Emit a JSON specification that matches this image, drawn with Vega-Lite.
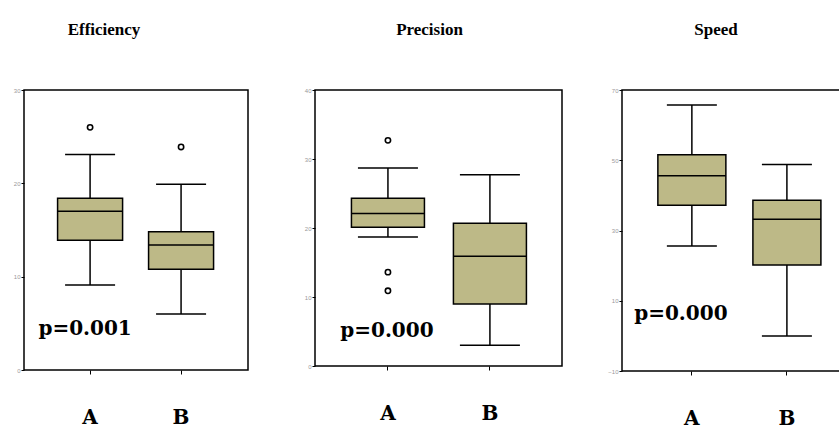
{
  "$schema": "https://vega.github.io/schema/vega-lite/v6.json",
  "padding": {"left": 9, "top": 20, "right": 0, "bottom": 0},
  "background": "white",
  "spacing": 40,
  "datasets": {
    "eff_box": [
      {"grp": "A", "lower": 9.1, "q1": 13.9, "median": 17.0, "q3": 18.4, "upper": 23.1},
      {"grp": "B", "lower": 6.0, "q1": 10.8, "median": 13.4, "q3": 14.8, "upper": 19.9}
    ],
    "eff_out": [{"grp": "A", "v": 26.0}, {"grp": "B", "v": 23.9}],
    "eff_p": [{"grp": "A", "v": 4.4, "label": "p=0.001"}],
    "pre_box": [
      {"grp": "A", "lower": 18.7, "q1": 20.1, "median": 22.1, "q3": 24.3, "upper": 28.7},
      {"grp": "B", "lower": 3.0, "q1": 9.0, "median": 15.9, "q3": 20.7, "upper": 27.7}
    ],
    "pre_out": [{"grp": "A", "v": 32.7}, {"grp": "A", "v": 13.6}, {"grp": "A", "v": 10.9}],
    "pre_p": [{"grp": "A", "v": 5.1, "label": "p=0.000"}],
    "spd_box": [
      {"grp": "A", "lower": 25.6, "q1": 37.2, "median": 45.6, "q3": 51.6, "upper": 65.7},
      {"grp": "B", "lower": 0.0, "q1": 20.2, "median": 33.2, "q3": 38.6, "upper": 48.8}
    ],
    "spd_p": [{"grp": "A", "v": 6.1, "label": "p=0.000"}]
  },
  "hconcat": [
    {
      "width": 224, "height": 280,
      "title": {"text": "Efficiency", "dx": -32, "anchor": "middle", "offset": 48},
      "encoding": {
        "x": {"field": "grp", "type": "nominal", "title": null,
              "scale": {"domain": ["A", "B"], "paddingInner": 0, "paddingOuter": 0.231, "align": 0.49}}
      },
      "layer": [
        {"data": {"name": "eff_box"}, "mark": {"type": "rule", "color": "black", "strokeWidth": 1.5},
         "encoding": {"y": {"field": "lower", "type": "quantitative", "title": null,
                            "scale": {"domain": [0, 30], "nice": false, "zero": false},
                            "axis": {"values": [0, 10, 20, 30], "minExtent": 14, "maxExtent": 14, "labelOverlap": false}},
                      "y2": {"field": "upper"}}},
        {"data": {"name": "eff_box"}, "mark": {"type": "bar", "size": 65, "fill": "#bdb987", "stroke": "black", "strokeWidth": 1.5},
         "encoding": {"y": {"field": "q1", "type": "quantitative", "title": null}, "y2": {"field": "q3"}}},
        {"data": {"name": "eff_box"}, "mark": {"type": "tick", "size": 65, "thickness": 1.5, "color": "black", "opacity": 1},
         "encoding": {"y": {"field": "median", "type": "quantitative", "title": null}}},
        {"data": {"name": "eff_box"}, "mark": {"type": "tick", "size": 50, "thickness": 1.5, "color": "black", "opacity": 1},
         "encoding": {"y": {"field": "lower", "type": "quantitative", "title": null}}},
        {"data": {"name": "eff_box"}, "mark": {"type": "tick", "size": 50, "thickness": 1.5, "color": "black", "opacity": 1},
         "encoding": {"y": {"field": "upper", "type": "quantitative", "title": null}}},
        {"data": {"name": "eff_out"}, "mark": {"type": "point", "shape": "circle", "filled": false, "size": 28, "strokeWidth": 1.6, "color": "black", "opacity": 1},
         "encoding": {"y": {"field": "v", "type": "quantitative", "title": null}}},
        {"data": {"name": "eff_p"}, "mark": {"type": "text", "font": "DejaVu Serif", "fontWeight": "bold", "fontSize": 20, "baseline": "middle", "dx": -5, "color": "black"},
         "encoding": {"y": {"field": "v", "type": "quantitative", "title": null}, "text": {"field": "label"}}}
      ]
    },
    {
      "width": 247, "height": 276,
      "title": {"text": "Precision", "dx": -9, "anchor": "middle", "offset": 48},
      "encoding": {
        "x": {"field": "grp", "type": "nominal", "title": null,
              "scale": {"domain": ["A", "B"], "paddingInner": 0, "paddingOuter": 0.211, "align": 0.51}}
      },
      "layer": [
        {"data": {"name": "pre_box"}, "mark": {"type": "rule", "color": "black", "strokeWidth": 1.5},
         "encoding": {"y": {"field": "lower", "type": "quantitative", "title": null,
                            "scale": {"domain": [0, 40], "nice": false, "zero": false},
                            "axis": {"values": [0, 10, 20, 30, 40], "minExtent": 25, "maxExtent": 25, "labelOverlap": false}},
                      "y2": {"field": "upper"}}},
        {"data": {"name": "pre_box"}, "mark": {"type": "bar", "size": 73, "fill": "#bdb987", "stroke": "black", "strokeWidth": 1.5},
         "encoding": {"y": {"field": "q1", "type": "quantitative", "title": null}, "y2": {"field": "q3"}}},
        {"data": {"name": "pre_box"}, "mark": {"type": "tick", "size": 73, "thickness": 1.5, "color": "black", "opacity": 1},
         "encoding": {"y": {"field": "median", "type": "quantitative", "title": null}}},
        {"data": {"name": "pre_box"}, "mark": {"type": "tick", "size": 60, "thickness": 1.5, "color": "black", "opacity": 1},
         "encoding": {"y": {"field": "lower", "type": "quantitative", "title": null}}},
        {"data": {"name": "pre_box"}, "mark": {"type": "tick", "size": 60, "thickness": 1.5, "color": "black", "opacity": 1},
         "encoding": {"y": {"field": "upper", "type": "quantitative", "title": null}}},
        {"data": {"name": "pre_out"}, "mark": {"type": "point", "shape": "circle", "filled": false, "size": 28, "strokeWidth": 1.6, "color": "black", "opacity": 1},
         "encoding": {"y": {"field": "v", "type": "quantitative", "title": null}}},
        {"data": {"name": "pre_p"}, "mark": {"type": "text", "font": "DejaVu Serif", "fontWeight": "bold", "fontSize": 20, "baseline": "middle", "dx": -1, "color": "black"},
         "encoding": {"y": {"field": "v", "type": "quantitative", "title": null}, "text": {"field": "label"}}}
      ]
    },
    {
      "width": 222, "height": 281,
      "title": {"text": "Speed", "dx": -17, "anchor": "middle", "offset": 48},
      "encoding": {
        "x": {"field": "grp", "type": "nominal", "title": null,
              "scale": {"domain": ["A", "B"], "paddingInner": 0, "paddingOuter": 0.168, "align": 0.7}}
      },
      "layer": [
        {"data": {"name": "spd_box"}, "mark": {"type": "rule", "color": "black", "strokeWidth": 1.5},
         "encoding": {"y": {"field": "lower", "type": "quantitative", "title": null,
                            "scale": {"domain": [-10, 70], "nice": false, "zero": false},
                            "axis": {"values": [-10, 0, 10, 20, 30, 40, 50, 60, 70], "minExtent": 18, "maxExtent": 18, "labelOverlap": false, "labelSeparation": 0, "labelBound": false}},
                      "y2": {"field": "upper"}}},
        {"data": {"name": "spd_box"}, "mark": {"type": "bar", "size": 68, "fill": "#bdb987", "stroke": "black", "strokeWidth": 1.5},
         "encoding": {"y": {"field": "q1", "type": "quantitative", "title": null}, "y2": {"field": "q3"}}},
        {"data": {"name": "spd_box"}, "mark": {"type": "tick", "size": 68, "thickness": 1.5, "color": "black", "opacity": 1},
         "encoding": {"y": {"field": "median", "type": "quantitative", "title": null}}},
        {"data": {"name": "spd_box"}, "mark": {"type": "tick", "size": 50, "thickness": 1.5, "color": "black", "opacity": 1},
         "encoding": {"y": {"field": "lower", "type": "quantitative", "title": null}}},
        {"data": {"name": "spd_box"}, "mark": {"type": "tick", "size": 50, "thickness": 1.5, "color": "black", "opacity": 1},
         "encoding": {"y": {"field": "upper", "type": "quantitative", "title": null}}},
        {"data": {"name": "spd_p"}, "mark": {"type": "text", "font": "DejaVu Serif", "fontWeight": "bold", "fontSize": 20, "baseline": "middle", "dx": -11, "color": "black"},
         "encoding": {"y": {"field": "v", "type": "quantitative", "title": null}, "text": {"field": "label"}}}
      ]
    }
  ],
  "config": {
    "view": {"stroke": "black", "strokeWidth": 1.5},
    "title": {"font": "Liberation Serif", "fontWeight": "bold", "fontSize": 17, "color": "black"},
    "axis": {"grid": false, "labelOverlap": false},
    "axisY": {"domain": false, "tickColor": "black", "tickSize": 3, "labelFontSize": 6, "labelColor": "#999999", "labelPadding": 1, "labelFont": "Liberation Sans", "labelOverlap": false},
    "axisX": {"domain": false, "labelAngle": 0, "labelFont": "DejaVu Serif", "labelFontWeight": "bold", "labelFontSize": 20, "labelColor": "black", "labelPadding": 33, "tickSize": 4, "tickColor": "black"}
  }
}
